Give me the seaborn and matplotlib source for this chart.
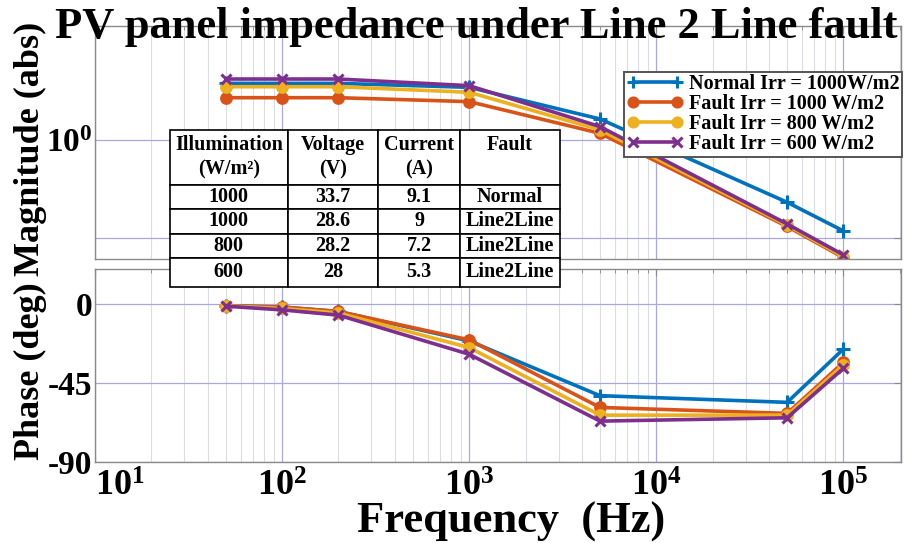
import numpy as np
import matplotlib
matplotlib.use("Agg")
import matplotlib.pyplot as plt
import seaborn as sns
from matplotlib.ticker import FixedLocator, NullLocator, NullFormatter
from matplotlib.lines import Line2D

# Measured impedance of the PV panel (Bode data)
freq_hz = [50, 100, 200, 1000, 5000, 50000, 100000]

mag_normal_1000 = [3.80, 3.80, 3.80, 3.46, 1.64, 0.230, 0.117]
mag_fault_1000 = [2.71, 2.71, 2.71, 2.47, 1.17, 0.130, 0.0624]
mag_fault_800 = [3.51, 3.51, 3.51, 3.08, 1.27, 0.134, 0.0640]
mag_fault_600 = [4.21, 4.21, 4.21, 3.60, 1.37, 0.138, 0.0665]

phase_normal_1000 = [-1.0, -1.7, -4.2, -21.0, -52.2, -56.0, -25.6]
phase_fault_1000 = [-1.0, -1.7, -4.2, -20.4, -58.9, -62.3, -33.2]
phase_fault_800 = [-1.0, -2.5, -5.1, -24.8, -63.3, -63.3, -34.7]
phase_fault_600 = [-1.2, -3.3, -6.3, -28.6, -66.7, -64.8, -36.6]

series_labels = ["Normal Irr = 1000W/m2", "Fault Irr = 1000 W/m2",
                 "Fault Irr = 800 W/m2", "Fault Irr = 600 W/m2"]

# Operating points of the panel
table_header = ["Illumination\n(W/m²)", "Voltage\n(V)", "Current\n(A)", "Fault\n "]
table_illumination = ["1000", "1000", "800", "600"]
table_voltage = ["33.7", "28.6", "28.2", "28"]
table_current = ["9.1", "9", "7.2", "5.3"]
table_fault = ["Normal", "Line2Line", "Line2Line", "Line2Line"]

x_tick_values = [1e1, 1e2, 1e3, 1e4, 1e5]
x_tick_labels = ["$10^{1}$", "$10^{2}$", "$10^{3}$", "$10^{4}$", "$10^{5}$"]
mag_tick_values = [0.1, 1.0]
mag_tick_labels = ["", "$10^{0}$"]
phase_tick_values = [-90, -45, 0]
phase_tick_labels = ["-90", "-45", "0"]

colors = ["#0072BD", "#D95319", "#EDB120", "#7E2F8E"]
markers = ["+", "o", "o", "x"]
marker_sizes = [10, 7, 7, 7]

sns.set_theme(style="white")
plt.rcParams.update({
    "font.family": ["Liberation Serif", "DejaVu Serif"],
    "font.weight": "bold",
    "text.color": "black",
    "mathtext.fontset": "custom",
    "mathtext.rm": "Liberation Serif:bold",
    "mathtext.it": "Liberation Serif:bold",
    "mathtext.bf": "Liberation Serif:bold",
    "mathtext.default": "rm",
    "axes.edgecolor": "#8a8a8a",
    "axes.linewidth": 1.0,
    "xtick.color": "#8a8a8a",
    "ytick.color": "#8a8a8a",
    "xtick.labelcolor": "black",
    "ytick.labelcolor": "black",
})

W, H = 909, 543
fig = plt.figure(figsize=(W / 100, H / 100), dpi=100)


def box(x0, y0, x1, y1):
    return [x0 / W, 1 - y1 / H, (x1 - x0) / W, (y1 - y0) / H]


ax_mag = fig.add_axes(box(95, 26, 901, 259))
ax_ph = fig.add_axes(box(95, 269, 901, 462))

mags = [mag_normal_1000, mag_fault_1000, mag_fault_800, mag_fault_600]
phases = [phase_normal_1000, phase_fault_1000, phase_fault_800, phase_fault_600]

for ax in (ax_mag, ax_ph):
    ax.set_xscale("log")

for vals_m, vals_p, lab, c, m, ms in zip(mags, phases, series_labels, colors, markers, marker_sizes):
    for ax, vals in ((ax_mag, vals_m), (ax_ph, vals_p)):
        sns.lineplot(x=freq_hz, y=vals, ax=ax, color=c, marker=m, markersize=ms,
                     markeredgecolor=c, markerfacecolor=c, markeredgewidth=2.2,
                     linewidth=2.6, label=lab, legend=False, errorbar=None,
                     sort=False, estimator=None)

ax_mag.set_yscale("log")
ax_mag.set_ylim(0.0604, 14.7)
ax_ph.set_ylim(-90, 20)

for ax in (ax_mag, ax_ph):
    ax.set_xlim(10, 2.03e5)
    ax.xaxis.set_major_locator(FixedLocator(x_tick_values))
    ax.xaxis.set_minor_locator(FixedLocator(
        [k * 10 ** e for e in range(1, 6) for k in range(2, 10) if k * 10 ** e < 2.03e5]))
    ax.xaxis.set_minor_formatter(NullFormatter())
    ax.grid(which="major", color="#a8a8dc", linewidth=0.9)
    ax.grid(which="minor", axis="x", color="#dcdce4", linewidth=0.8)
    ax.tick_params(which="both", direction="in", top=True, right=True)
    ax.tick_params(which="major", length=5, width=0.8)
    ax.tick_params(which="minor", length=3, width=0.6)
    ax.set_xlabel("")
    ax.set_ylabel("")
    ax.set_axisbelow(True)

ax_mag.set_xticklabels([])
ax_mag.yaxis.set_major_locator(FixedLocator(mag_tick_values))
ax_mag.yaxis.set_minor_locator(NullLocator())
ax_mag.set_yticklabels(mag_tick_labels, fontsize=24)
ax_mag.tick_params(axis="y", pad=2)

ax_ph.set_xticks(x_tick_values)
ax_ph.set_xticklabels(x_tick_labels, fontsize=26)
ax_ph.tick_params(axis="x", pad=6)
# first decade label sits just right of the corner
ax_ph.get_xticklabels()[0].set_horizontalalignment("left")
ax_ph.yaxis.set_major_locator(FixedLocator(phase_tick_values))
ax_ph.set_yticklabels(phase_tick_labels, fontsize=24)
ax_ph.tick_params(axis="y", pad=2)

# Legend: MATLAB-style, markers at both line ends
handles = [Line2D([], [], color=c, marker=m, markersize=ms, markeredgecolor=c,
                  markerfacecolor=c, markeredgewidth=2.2, linewidth=2.6)
           for c, m, ms in zip(colors, markers, [9, 6.5, 6.5, 6.5])]
leg = ax_mag.legend(handles, series_labels, loc="upper right",
                    bbox_to_anchor=(902 / W, 1 - 72 / H), bbox_transform=fig.transFigure,
                    fontsize=14.5, numpoints=2, handlelength=2.8, handletextpad=0.3,
                    labelspacing=0.0, borderpad=0.12, borderaxespad=0,
                    frameon=True, fancybox=False, edgecolor="#555555", framealpha=1)
leg.get_frame().set_linewidth(1.4)
for t in leg.get_texts():
    t.set_fontweight("bold")
    t.set_color("black")

# Operating-point table on top of the magnitude plot
ax_tab = fig.add_axes(box(170, 130, 560, 287), zorder=5)
ax_tab.set_axis_off()
cells = [list(r) for r in zip(table_illumination, table_voltage, table_current, table_fault)]
tab = ax_tab.table(cellText=cells, colLabels=table_header, cellLoc="center",
                   colWidths=[117.7, 90.6, 81.7, 100.0], bbox=[0, 0, 1, 1])
tab.auto_set_font_size(False)
row_heights = [55, 24, 24.3, 24.3, 29]
for (r, c), cell in tab.get_celld().items():
    cell.set_height(row_heights[r])
    cell.set_linewidth(1.2)
    cell.set_edgecolor("black")
    cell.set_facecolor("white")
    cell.get_text().set_fontsize(14.5)
    cell.get_text().set_fontweight("bold")
    cell.get_text().set_color("black")
    cell.get_text().set_linespacing(1.3)

fig.text(476 / W, 1 - 38 / H, "PV panel impedance under Line 2 Line fault",
         fontsize=32, fontweight="bold", ha="center", va="baseline")
fig.text(30 / W, 1 - 149 / H, "Magnitude (abs)", fontsize=26, fontweight="bold",
         rotation=90, ha="center", va="center")
fig.text(30 / W, 1 - 371 / H, "Phase (deg)", fontsize=26, fontweight="bold",
         rotation=90, ha="center", va="center")
fig.text(511 / W, 1 - 533 / H, "Frequency  (Hz)", fontsize=32, fontweight="bold",
         ha="center", va="baseline")

fig.savefig("out.png", dpi=100, facecolor="white")
